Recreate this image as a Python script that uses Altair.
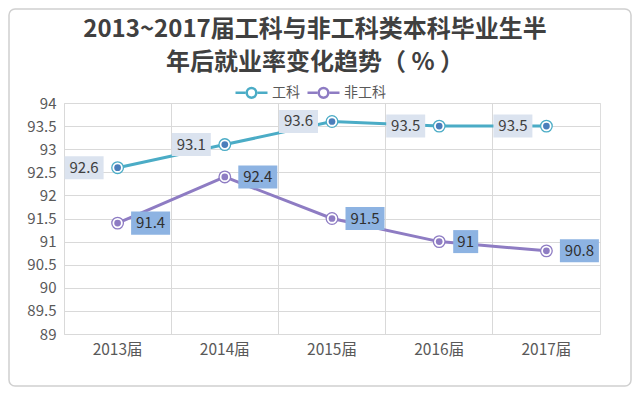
import altair as alt
import pandas as pd

years = ["2013届", "2014届", "2015届", "2016届", "2017届"]
series = ["工科", "非工科"]
gongke = [92.6, 93.1, 93.6, 93.5, 93.5]
feigongke = [91.4, 92.4, 91.5, 91.0, 90.8]
y_ticks = [89, 89.5, 90, 90.5, 91, 91.5, 92, 92.5, 93, 93.5, 94]
title_lines = ["2013~2017届工科与非工科类本科毕业生半", "年后就业率变化趋势（ % ）"]

rows = []
for s, vals in zip(series, [gongke, feigongke]):
    for yr, v in zip(years, vals):
        rows.append({"year": yr, "series": s, "value": v, "label": f"{v:g}"})
df = pd.DataFrame(rows)

FONT = "Noto Sans CJK SC"
W, H = 536, 231
LINE_C = ["#4bacc6", "#8e7cc3"]
DOT_C = ["#4a7ebb", "#8e7cc3"]
GRID = "#d9d9d9"

x = alt.X(
    "year:N", sort=years,
    scale=alt.Scale(type="band", paddingInner=0, paddingOuter=0),
    axis=alt.Axis(title=None, bandPosition=0, grid=True,
                  gridColor=GRID, domain=False, ticks=False, labelAngle=0,
                  labelFontSize=15.5, labelPadding=8, labelColor="#595959",
                  labelFont=FONT),
)
y = alt.Y(
    "value:Q",
    scale=alt.Scale(domain=[89, 94], nice=False, zero=False),
    axis=alt.Axis(title=None, values=y_ticks, format="~g", domain=False,
                  ticks=False, labelFontSize=15, labelPadding=8,
                  labelColor="#595959", gridColor=GRID, labelFont=FONT),
)

base = alt.Chart(df).encode(x=x, y=y)

is_gk = "datum.series == '工科'"

legend_path = ("M-1,0H-0.38M0.38,0H1"
               "M0.3,0A0.3,0.3 0 1,1 -0.3,0A0.3,0.3 0 1,1 0.3,0")

lines = base.mark_line(strokeWidth=3).encode(
    color=alt.Color(
        "series:N",
        scale=alt.Scale(domain=series, range=LINE_C),
        legend=alt.Legend(
            title=None, orient="none", legendX=170, legendY=-28,
            direction="horizontal", symbolType=legend_path, symbolSize=1024,
            symbolStrokeWidth=2.5, symbolFillColor="white",
            labelFontSize=14, labelColor="#595959", labelFont=FONT,
            labelOffset=3, columnPadding=2,
        ),
    )
)

rings = base.mark_point(shape="circle", filled=False, fill="white", size=135,
                        strokeWidth=1.3, opacity=1).encode(
    stroke=alt.condition(is_gk, alt.value(LINE_C[0]), alt.value(LINE_C[1]))
)
dots = base.mark_circle(size=45, opacity=1).encode(
    color=alt.condition(is_gk, alt.value(DOT_C[0]), alt.value(DOT_C[1]))
)

gk_data = base.transform_filter(is_gk)
fg_data = base.transform_filter("datum.series != '工科'")

box_long = "M-1,-0.59H1V0.59H-1Z"
box_short = "M-1,-0.92H1V0.92H-1Z"

gk_box = gk_data.mark_point(shape=box_long, filled=True, size=39 * 39,
                            color="#dbe3ef", opacity=1, xOffset=-33.5)
gk_text = gk_data.mark_text(fontSize=15, color="#404040", font=FONT,
                            xOffset=-33.5, baseline="middle").encode(text="label:N")

fg_long = fg_data.transform_filter("length(datum.label) > 2")
fg_short = fg_data.transform_filter("length(datum.label) <= 2")
fg_box1 = fg_long.mark_point(shape=box_long, filled=True, size=39 * 39,
                             color="#8db3e2", opacity=1, xOffset=33)
fg_box2 = fg_short.mark_point(shape=box_short, filled=True, size=25 * 25,
                              color="#8db3e2", opacity=1, xOffset=26.5)
fg_text1 = fg_long.mark_text(fontSize=15, color="#303030", font=FONT,
                             xOffset=33, baseline="middle").encode(text="label:N")
fg_text2 = fg_short.mark_text(fontSize=15, color="#303030", font=FONT,
                              xOffset=26.5, baseline="middle").encode(text="label:N")

border = alt.Chart(pd.DataFrame({"a": [0]})).mark_rect(
    fill=None, stroke="#d0d0d0", strokeWidth=1.5, cornerRadius=6
).encode(
    x=alt.value(-55), x2=alt.value(W + 31),
    y=alt.value(-94), y2=alt.value(H + 52),
)

chart = alt.layer(
    border, lines, rings, dots, gk_box, gk_text, fg_box1, fg_box2, fg_text1, fg_text2
).properties(
    width=W, height=H,
    padding={"left": 56, "top": 95, "right": 32, "bottom": 54},
    autosize=alt.AutoSizeParams(type="none"),
    title=alt.TitleParams(
        text=title_lines, fontSize=24, font=FONT, fontWeight="bold",
        color="#404040", anchor="middle", offset=-67, lineHeight=33, dx=-17,
    ),
).configure_view(stroke=GRID).configure(background="white")

chart.save("out.html", embed_options={"renderer": "svg", "actions": False})
